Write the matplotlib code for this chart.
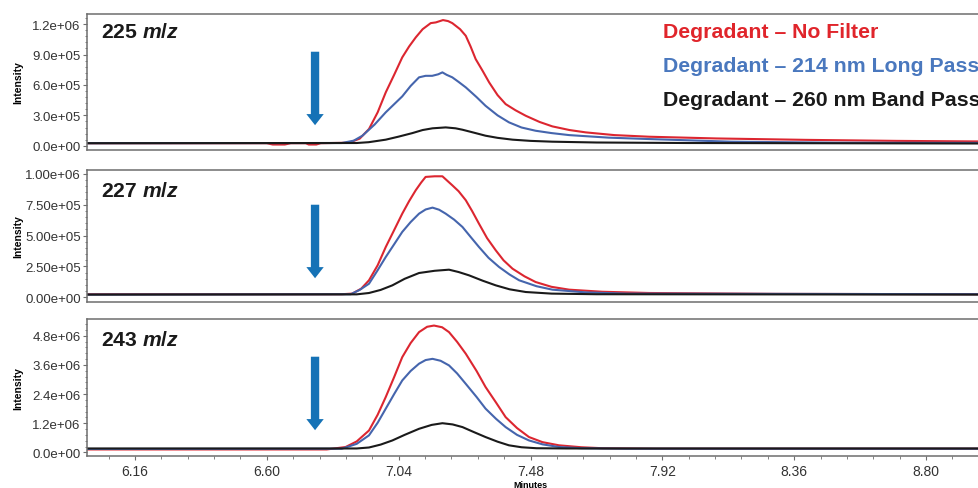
import matplotlib
matplotlib.use("Agg")
import matplotlib.pyplot as plt
from matplotlib.ticker import FixedLocator, MultipleLocator, AutoMinorLocator, FormatStrFormatter

plt.rcParams['font.family'] = ['Liberation Sans', 'DejaVu Sans']
plt.rcParams['mathtext.fontset'] = 'custom'
plt.rcParams['mathtext.it'] = 'Liberation Sans:italic:bold'
plt.rcParams['mathtext.rm'] = 'Liberation Sans:bold'

# ---- data (minutes, intensity in units of 1e6) ----
# 225 m/z
t225_red = [6.00, 6.60, 6.62, 6.66, 6.68, 6.73, 6.74, 6.765, 6.78, 6.874, 6.91, 6.941, 6.97, 6.997,
            7.025, 7.052, 7.075, 7.097, 7.12, 7.147, 7.164, 7.188, 7.205, 7.219, 7.245, 7.264, 7.28, 7.297,
            7.32, 7.342, 7.37, 7.397, 7.43, 7.464, 7.51, 7.553, 7.61, 7.664, 7.76, 7.876, 8.10, 8.40,
            8.70, 9.00]
i225_red = [0.025, 0.025, 0.012, 0.012, 0.025, 0.025, 0.012, 0.012, 0.025, 0.03, 0.07, 0.165, 0.33, 0.527,
            0.70, 0.872, 0.98, 1.069, 1.15, 1.21, 1.217, 1.24, 1.23, 1.21, 1.15, 1.085, 0.98, 0.855,
            0.74, 0.625, 0.50, 0.411, 0.35, 0.296, 0.235, 0.191, 0.155, 0.132, 0.105, 0.089, 0.072, 0.058,
            0.048, 0.042]
t225_blue = [6.00, 6.85, 6.89, 6.919, 6.96, 6.997, 7.025, 7.052, 7.08, 7.108, 7.13, 7.152, 7.172, 7.186,
             7.20, 7.219, 7.24, 7.264, 7.30, 7.33, 7.37, 7.408, 7.45, 7.497, 7.55, 7.609, 7.74, 7.876,
             8.15, 8.50, 9.00]
i225_blue = [0.025, 0.027, 0.05, 0.099, 0.21, 0.33, 0.41, 0.487, 0.59, 0.675, 0.69, 0.69, 0.705, 0.724,
             0.70, 0.675, 0.63, 0.576, 0.48, 0.394, 0.30, 0.231, 0.18, 0.148, 0.125, 0.105, 0.08, 0.066,
             0.04, 0.03, 0.028]
t225_black = [6.00, 6.90, 6.94, 6.997, 7.04, 7.086, 7.12, 7.153, 7.197, 7.23, 7.253, 7.29, 7.33, 7.37,
              7.42, 7.48, 7.553, 7.70, 8.00, 9.00]
i225_black = [0.025, 0.027, 0.035, 0.06, 0.09, 0.125, 0.155, 0.172, 0.181, 0.172, 0.158, 0.13, 0.099, 0.078,
              0.06, 0.048, 0.04, 0.032, 0.027, 0.022]

# 227 m/z
t227_red = [6.00, 6.85, 6.885, 6.915, 6.941, 6.97, 6.997, 7.025, 7.052, 7.075, 7.097, 7.115, 7.13, 7.16,
            7.186, 7.20, 7.219, 7.24, 7.264, 7.285, 7.308, 7.335, 7.364, 7.39, 7.42, 7.46, 7.497, 7.55,
            7.609, 7.72, 7.876, 8.30, 9.00]
i227_red = [0.025, 0.025, 0.03, 0.07, 0.138, 0.26, 0.408, 0.545, 0.678, 0.78, 0.868, 0.93, 0.976, 0.981,
            0.981, 0.95, 0.908, 0.86, 0.787, 0.70, 0.597, 0.48, 0.381, 0.30, 0.232, 0.17, 0.124, 0.085,
            0.062, 0.045, 0.035, 0.028, 0.025]
t227_blue = [6.00, 6.88, 6.91, 6.941, 6.97, 6.997, 7.025, 7.052, 7.08, 7.108, 7.13, 7.153, 7.175, 7.197,
             7.225, 7.253, 7.28, 7.308, 7.34, 7.375, 7.41, 7.442, 7.50, 7.553, 7.664, 7.80, 9.00]
i227_blue = [0.022, 0.025, 0.06, 0.11, 0.22, 0.327, 0.43, 0.53, 0.61, 0.678, 0.712, 0.727, 0.71, 0.678,
             0.63, 0.57, 0.49, 0.408, 0.32, 0.246, 0.185, 0.138, 0.09, 0.062, 0.04, 0.03, 0.025]
t227_black = [6.00, 6.90, 6.941, 6.98, 7.019, 7.06, 7.108, 7.16, 7.208, 7.24, 7.275, 7.32, 7.364, 7.41,
              7.464, 7.55, 7.70, 9.00]
i227_black = [0.022, 0.024, 0.035, 0.06, 0.097, 0.15, 0.197, 0.215, 0.224, 0.205, 0.178, 0.135, 0.097, 0.065,
              0.043, 0.03, 0.025, 0.022]

# 243 m/z
t243_red = [6.00, 6.80, 6.863, 6.90, 6.941, 6.97, 6.997, 7.025, 7.052, 7.08, 7.108, 7.135, 7.158, 7.185,
            7.208, 7.235, 7.264, 7.30, 7.33, 7.365, 7.397, 7.435, 7.475, 7.52, 7.575, 7.65, 7.72, 7.90, 9.00]
i243_red = [0.12, 0.12, 0.22, 0.45, 0.9, 1.55, 2.28, 3.1, 3.92, 4.5, 4.95, 5.17, 5.22, 5.15,
            4.95, 4.55, 4.06, 3.35, 2.69, 2.05, 1.45, 1.0, 0.63, 0.42, 0.29, 0.21, 0.17, 0.15, 0.15]
t243_blue = [6.00, 6.85, 6.90, 6.941, 6.97, 6.997, 7.025, 7.052, 7.08, 7.108, 7.13, 7.153, 7.18, 7.208,
             7.235, 7.264, 7.30, 7.33, 7.365, 7.397, 7.435, 7.475, 7.52, 7.575, 7.65, 7.80, 9.00]
i243_blue = [0.14, 0.15, 0.35, 0.7, 1.22, 1.8, 2.4, 2.96, 3.35, 3.65, 3.8, 3.85, 3.77, 3.58,
             3.25, 2.82, 2.28, 1.8, 1.38, 1.04, 0.72, 0.49, 0.33, 0.22, 0.17, 0.15, 0.15]
t243_black = [6.00, 6.90, 6.941, 6.98, 7.019, 7.06, 7.108, 7.15, 7.186, 7.22, 7.253, 7.29, 7.33, 7.37,
              7.408, 7.45, 7.50, 7.60, 9.00]
i243_black = [0.16, 0.16, 0.2, 0.32, 0.49, 0.72, 0.97, 1.13, 1.2, 1.15, 1.04, 0.84, 0.63, 0.44,
              0.29, 0.21, 0.17, 0.16, 0.16]

panel_labels = ["225", "227", "243"]
series_names = ["Degradant \u2013 No Filter", "Degradant \u2013 214 nm Long Pass",
                "Degradant \u2013 260 nm Band Pass"]
x_ticks = [6.16, 6.60, 7.04, 7.48, 7.92, 8.36, 8.80]
y_ticks = [[0, 3e5, 6e5, 9e5, 1.2e6],
           [0, 2.5e5, 5e5, 7.5e5, 1e6],
           [0, 1.2e6, 2.4e6, 3.6e6, 4.8e6]]
y_lims = [(-0.042e6, 1.3e6), (-0.038e6, 1.032e6), (-0.15e6, 5.49e6)]
y_fmt = ['%.1e', '%.2e', '%.1e']
arrow_t = 6.761

red = '#dc2630'
blue = '#4565ad'
black = '#1a1a1a'
arrow_c = '#1572b6'
leg_colors = ['#e0252b', '#4a78be', '#1a1a1a']

data = [
    [(t225_red, i225_red), (t225_blue, i225_blue), (t225_black, i225_black)],
    [(t227_red, i227_red), (t227_blue, i227_blue), (t227_black, i227_black)],
    [(t243_red, i243_red), (t243_blue, i243_blue), (t243_black, i243_black)],
]

fig = plt.figure(figsize=(9.79, 4.89), dpi=100)
# axes boxes in pixels (left, top, bottom) -> figure fractions
W, H = 979, 489
boxes = [(87, 15, 151), (87, 171, 303), (87, 320, 457)]
arrow_y = [(0.743, 0.162), (0.758, 0.159), (0.745, 0.168)]
label_y = [0.871, 0.843, 0.854]

for k, (l, top, bot) in enumerate(boxes):
    ax = fig.add_axes([l / W, (H - bot) / H, 899 / W, (bot - top) / H])
    for (t, v), c in zip(data[k], [red, blue, black]):
        ax.plot(t, [x * 1e6 for x in v], color=c, lw=1.5, solid_joinstyle='round')
    ax.set_xlim(6.0, 9.0)
    ax.set_ylim(*y_lims[k])
    ax.yaxis.set_major_locator(FixedLocator(y_ticks[k]))
    ax.yaxis.set_minor_locator(AutoMinorLocator(5))
    ax.yaxis.set_major_formatter(FormatStrFormatter(y_fmt[k]))
    ax.xaxis.set_major_locator(FixedLocator(x_ticks))
    ax.xaxis.set_minor_locator(MultipleLocator(0.088))
    for s in ax.spines.values():
        s.set_color('#6e6e6e')
        s.set_linewidth(1.1)
    ax.tick_params(axis='y', which='major', length=3, width=0.8, color='#6e6e6e',
                   labelsize=9.5, labelcolor='#333333', pad=1.5)
    ax.tick_params(axis='y', which='minor', length=1.5, width=0.6, color='#6e6e6e')
    if k < 2:
        ax.tick_params(axis='x', which='both', length=0, labelbottom=False)
    else:
        ax.tick_params(axis='x', which='major', length=3, width=0.8, color='#6e6e6e',
                       labelsize=10, labelcolor='#333333', pad=2.5)
        ax.tick_params(axis='x', which='minor', length=2, width=0.6, color='#6e6e6e')
        ax.set_xlabel('Minutes', fontsize=6.5, fontweight='bold', labelpad=0)
        ax.xaxis.set_label_coords((530 - 87) / 899, -0.178)
    ax.set_ylabel('Intensity', fontsize=7.5, fontweight='bold', labelpad=4)
    ax.yaxis.set_label_coords(-0.0705, 0.5)

    ax.text(0.0156, label_y[k], panel_labels[k] + r" $m/z$", transform=ax.transAxes,
            fontsize=15.2, fontweight='bold', ha='left', va='center', color='#1a1a1a')

    ya, yb = arrow_y[k]
    ax.annotate('', xy=(arrow_t, yb), xytext=(arrow_t, ya),
                xycoords=('data', 'axes fraction'), textcoords=('data', 'axes fraction'),
                arrowprops=dict(arrowstyle='simple,head_length=0.8,head_width=1.25,tail_width=0.6',
                                mutation_scale=10, color=arrow_c, lw=0))

    if k == 0:
        for j, (name, c) in enumerate(zip(series_names, leg_colors)):
            fig.text(663 / W, 1 - (33 + 33.5 * j) / H, name, color=c, fontsize=15.3,
                     fontweight='bold', ha='left', va='center')

fig.savefig('out.png', dpi=100)
